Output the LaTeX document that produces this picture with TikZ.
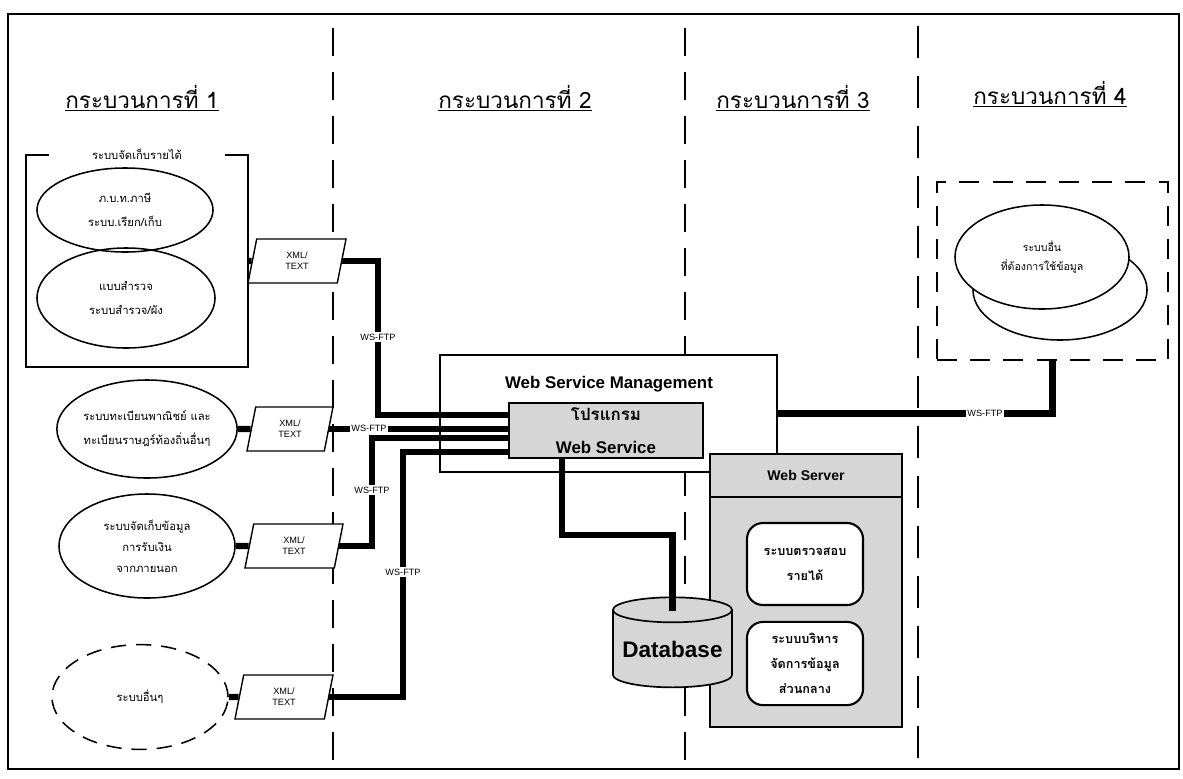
\documentclass[tikz,border=0pt]{standalone}
\usepackage{fontspec}
\setmainfont{Liberation Sans}
\newfontfamily\thaifont[Script=Thai]{Loma}
\usetikzlibrary{shapes.geometric,positioning}
\newcommand\Px{0.025cm}
\colorlet{screen}{black!16}
\tikzset{
  frame/.style={
    line width = 1.3pt
  },
  divone/.style={
    line width = 0.9pt,
    dash pattern = on 0.7cm off 0.4cm
  },
  divtwo/.style={
    line width = 1.2pt,
    dash pattern = on 0.7cm off 0.4cm
  },
  divthree/.style={
    line width = 1.6pt,
    dash pattern = on 0.8cm off 0.45cm
  },
}
\tikzset{
  phase/.style={
    font = \thaifont\fontsize{16}{18}\selectfont,
    inner sep = 2pt
  },
  revbox/.style={
    shape = rectangle,
    draw,
    line width = 1.2pt,
    minimum width = 5.55cm,
    minimum height = 5.3cm
  },
  revtitle/.style={
    fill = white,
    minimum width = 4.4cm,
    inner sep = 1pt,
    font = \thaifont\fontsize{8}{10}\selectfont
  },
  sysellipse/.style={
    shape = ellipse,
    draw,
    line width = 1.1pt,
    inner sep = 0pt,
    align = center,
    font = \thaifont\fontsize{8}{17}\selectfont
  },
}
\tikzset{
  xmlbox/.style={
    shape = trapezium,
    trapezium left angle = 64,
    trapezium right angle = 116,
    trapezium stretches body,
    draw,
    line width = 1pt,
    fill = white,
    minimum width = 2.45cm,
    minimum height = 1.1cm,
    inner sep = 0pt,
    align = center,
    font = \fontsize{6.5}{8}\selectfont
  },
  pipe/.style={
    line width = 4.3pt
  },
  wslabel/.style={
    fill = white,
    inner sep = 1pt,
    font = \fontsize{6.5}{7}\selectfont
  },
  wsmbox/.style={
    shape = rectangle,
    draw,
    line width = 0.8pt,
    fill = white,
    minimum width = 8.425cm,
    minimum height = 2.925cm
  },
  progbox/.style={
    shape = rectangle,
    draw,
    line width = 1.5pt,
    fill = screen,
    minimum width = 4.85cm,
    minimum height = 1.375cm,
    inner sep = 0pt,
    align = center,
    font = \bfseries\fontsize{12}{23}\selectfont
  },
}
\tikzset{
  webserver/.style={
    shape = rectangle,
    draw,
    line width = 1.5pt,
    fill = screen,
    minimum width = 4.8cm,
    minimum height = 6.825cm
  },
  webhead/.style={
    shape = rectangle,
    draw,
    line width = 1.5pt,
    fill = screen,
    minimum width = 4.8cm,
    minimum height = 1.075cm,
    font = \bfseries\fontsize{10}{12}\selectfont
  },
  module/.style={
    shape = rectangle,
    draw,
    rounded corners = 0.4cm,
    line width = 1.5pt,
    fill = white,
    minimum width = 2.9cm,
    minimum height = 2.05cm,
    inner sep = 0pt,
    align = center,
    font = \thaifont\bfseries\fontsize{9}{18}\selectfont
  },
  dbase/.style={
    shape = cylinder,
    shape border rotate = 90,
    aspect = 0.25,
    draw,
    line width = 1.2pt,
    fill = screen,
    minimum height = 2.25cm,
    minimum width = 2.975cm,
    inner sep = 0pt,
    font = \bfseries\fontsize{16}{18}\selectfont
  },
  extbox/.style={
    shape = rectangle,
    draw,
    line width = 1.5pt,
    dash pattern = on 0.5cm off 0.33cm,
    minimum width = 5.775cm,
    minimum height = 4.45cm
  },
}

\begin{document}
\begin{tikzpicture}[x=\Px,y=-\Px]
\useasboundingbox (0,0) rectangle (1183,778);
\draw[frame] (8,14) rectangle (1179,769);

\draw[divone] (333,28) -- (333,769);
\draw[divtwo] (685,28) -- (685,769);
\draw[divthree] (918,26) -- (918,769);

\node[phase] (ph1) at (142,98) {\underline{กระบวนการที่ 1}};
\node[phase] (ph2) at (515,98) {\underline{กระบวนการที่ 2}};
\node[phase] (ph3) at (793,98) {\underline{กระบวนการที่ 3}};
\node[phase] (ph4) at (1050,94) {\underline{กระบวนการที่ 4}};

\node[revbox] (rev) at (137,261) {};
\node[revtitle] (revtitle) at (rev.north) {ระบบจัดเก็บรายได้};
\node[sysellipse, minimum width=4.4cm, minimum height=2.1cm] (tax) at (125,210) {ภ.บ.ท.ภาษี\\ระบบ.เรียก/เก็บ};
\node[sysellipse, minimum width=4.45cm, minimum height=2.5cm] (survey) at (126,298) {แบบสำรวจ\\ระบบสำรวจ/ผัง};
\node[sysellipse, minimum width=4.5cm, minimum height=2.45cm] (reg) at (147,429) {ระบบทะเบียนพาณิชย์ และ\\ทะเบียนราษฎร์ท้องถิ่นอื่นๆ};
\node[sysellipse, minimum width=4.4cm, minimum height=2.6cm, font=\thaifont\fontsize{8}{15}\selectfont] (cash) at (147,546) {ระบบจัดเก็บข้อมูล\\การรับเงิน\\จากภายนอก};
\node[sysellipse, dash pattern=on 0.38cm off 0.25cm, minimum width=4.4cm, minimum height=2.62cm] (other) at (140,697) {ระบบอื่นๆ};

\node[xmlbox] (xml1) at (297,261) {XML/\\TEXT};
\node[xmlbox, minimum width=2.15cm] (xml2) at (290,429) {XML/\\TEXT};
\node[xmlbox] (xml3) at (294,546) {XML/\\TEXT};
\node[xmlbox] (xml4) at (284,697) {XML/\\TEXT};

\draw[pipe] (rev.east) -- (xml1.west);
\draw[pipe] (reg.east) -- (xml2.west);
\draw[pipe] (cash.east) -- (xml3.west);
\draw[pipe] (other.east) -- (xml4.west);

\node[wsmbox] (wsm) at (608.5,413.5) {};
\node[font=\bfseries\fontsize{12}{14}\selectfont] (wsmtitle) at (609,384) {Web Service Management};

\coordinate (bend1) at (378,415);
\coordinate (bend3) at (372,438);
\coordinate (bend4) at (403,452);
\node[progbox] (prog) at (606,430.5) {{\thaifont โปรแกรม}\\Web Service};
\draw[pipe] (xml1.east) -| (bend1) -- (bend1 -| prog.west);
\draw[pipe] (xml2.east) -- (xml2.east -| prog.west);
\draw[pipe] (xml3.east) -| (bend3) -- (bend3 -| prog.west);
\draw[pipe] (xml4.east) -| (bend4) -- (bend4 -| prog.west);

\node[wslabel] (ws1) at (378,337) {WS-FTP};
\node[wslabel] (ws2) at (369,428) {WS-FTP};
\node[wslabel] (ws3) at (372,490) {WS-FTP};
\node[wslabel] (ws4) at (403,572) {WS-FTP};

\node[webserver] (web) at (806,590.5) {};
\node[webhead, anchor=north] (webhead) at (web.north) {Web Server};
\node[module] (audit) at (805,564) {ระบบตรวจสอบ\\รายได้};
\node[module, minimum height=2.08cm] (central) at (805,663.5) {ระบบบริหาร\\จัดการข้อมูล\\ส่วนกลาง};

\node[dbase] (db) at (672.5,649) {Database};
\coordinate (drop) at (562,535);
\draw[pipe] (prog.south -| drop) -- (drop) -| ([yshift=-0.375cm]db.north);

\node[extbox] (ext) at (1052.5,271) {};
\node[sysellipse, fill=white, minimum width=4.35cm, minimum height=2.5cm] (user2) at (1060,290) {};
\node[sysellipse, fill=white, minimum width=4.35cm, minimum height=2.6cm, font=\thaifont\fontsize{7.5}{14}\selectfont] (user) at (1042,257) {ระบบอื่น\\ที่ต้องการใช้ข้อมูล};
\draw[pipe] (wsm.east) -| (ext.south);
\node[wslabel] (ws5) at (985,413.5) {WS-FTP};
\end{tikzpicture}
\end{document}
